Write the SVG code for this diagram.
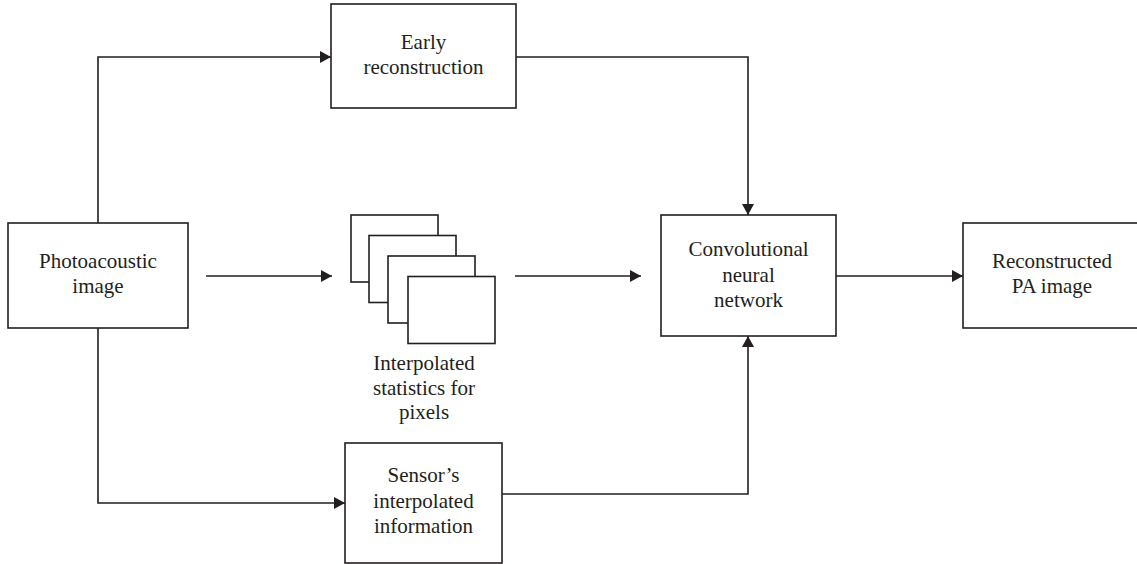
<svg xmlns="http://www.w3.org/2000/svg" width="1137" height="564" viewBox="0 0 1137 564">
  <style>
    .box { fill: #ffffff; stroke: #231f20; stroke-width: 1.6; }
    .lbl { font-family: "Liberation Serif", "Times New Roman", serif; font-size: 21px; fill: #231f20; text-anchor: middle; }
    .conn { fill: none; stroke: #231f20; stroke-width: 1.6; }
  </style>
  <defs>
    <marker id="arrow" viewBox="0 0 11 12" refX="11" refY="6" markerWidth="11" markerHeight="12" markerUnits="userSpaceOnUse" orient="auto">
      <path d="M0,0 L11,6 L0,12 z" fill="#231f20"/>
    </marker>
  </defs>
  <rect width="1137" height="564" fill="#ffffff"/>

  <g id="connectors">
    <path class="conn" d="M98,223 V57 H331" marker-end="url(#arrow)"/>
    <path class="conn" d="M516,57 H748 V215" marker-end="url(#arrow)"/>
    <path class="conn" d="M206,276 H332" marker-end="url(#arrow)"/>
    <path class="conn" d="M515,276 H641" marker-end="url(#arrow)"/>
    <path class="conn" d="M836,276 H963" marker-end="url(#arrow)"/>
    <path class="conn" d="M98,328 V503 H345" marker-end="url(#arrow)"/>
    <path class="conn" d="M502,494 H748 V336" marker-end="url(#arrow)"/>
  </g>

  <g id="early-reconstruction">
    <rect class="box" x="331" y="4" width="185" height="104"/>
    <text class="lbl" x="423.5" y="49">Early</text>
    <text class="lbl" x="423.5" y="74">reconstruction</text>
  </g>

  <g id="photoacoustic-image">
    <rect class="box" x="8" y="223" width="180" height="105"/>
    <text class="lbl" x="98" y="268">Photoacoustic</text>
    <text class="lbl" x="98" y="293">image</text>
  </g>

  <g id="interpolated-statistics">
    <rect class="box" x="351" y="215" width="87" height="67"/>
    <rect class="box" x="369" y="235.5" width="87" height="67"/>
    <rect class="box" x="388" y="256" width="87" height="67"/>
    <rect class="box" x="408" y="276.5" width="87" height="67"/>
    <text class="lbl" x="424" y="370">Interpolated</text>
    <text class="lbl" x="424" y="395">statistics for</text>
    <text class="lbl" x="424" y="419">pixels</text>
  </g>

  <g id="cnn">
    <rect class="box" x="661" y="215" width="175" height="121"/>
    <text class="lbl" x="748.5" y="256">Convolutional</text>
    <text class="lbl" x="748.5" y="281.5">neural</text>
    <text class="lbl" x="748.5" y="307">network</text>
  </g>

  <g id="reconstructed-pa-image">
    <rect class="box" x="963" y="223" width="180" height="105"/>
    <text class="lbl" x="1052" y="268">Reconstructed</text>
    <text class="lbl" x="1052" y="293">PA image</text>
  </g>

  <g id="sensor-info">
    <rect class="box" x="345" y="443" width="157" height="120"/>
    <text class="lbl" x="423.5" y="482">Sensor’s</text>
    <text class="lbl" x="423.5" y="507.5">interpolated</text>
    <text class="lbl" x="423.5" y="533">information</text>
  </g>
</svg>
